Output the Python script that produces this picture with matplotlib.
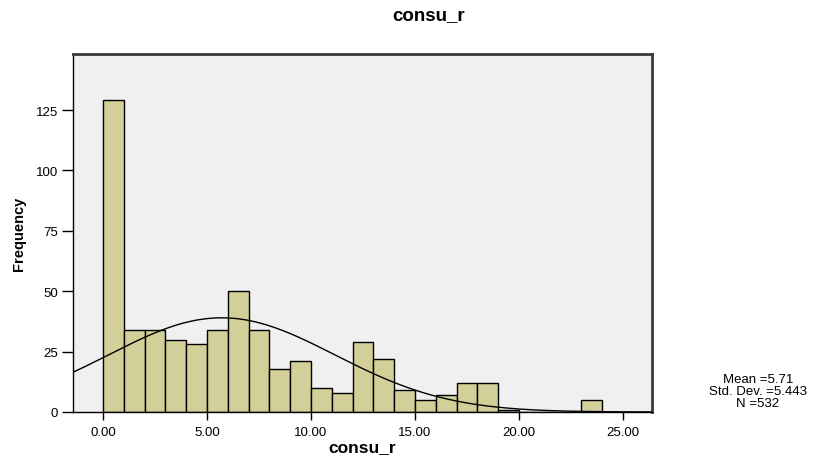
import numpy as np
import matplotlib.pyplot as plt

# histogram of consu_r, bin width 1 starting at 0
bin_starts = np.arange(0, 24, 1)
counts = [129, 34, 34, 30, 28, 34, 50, 34, 18, 21, 10, 8,
          29, 22, 9, 5, 7, 12, 12, 1, 0, 0, 0, 5]
mean = 5.71
std_dev = 5.443
n_obs = 532

plt.rcParams['font.family'] = ['Liberation Sans', 'DejaVu Sans']

fig = plt.figure(figsize=(8.13, 4.56), dpi=100)
ax = fig.add_axes([0.0898, 0.0943, 0.7122, 0.7851])
ax.set_facecolor('#F0F0F0')

ax.bar(bin_starts, counts, width=1.0, align='edge', color='#D3CF98',
       edgecolor='black', linewidth=1.0, zorder=2)

# normal curve scaled to counts (bin width 1)
xlim = (-1.44, 26.4)
xs = np.linspace(xlim[0], xlim[1], 400)
ys = n_obs / (std_dev * np.sqrt(2 * np.pi)) * np.exp(-0.5 * ((xs - mean) / std_dev) ** 2)
ax.plot(xs, ys, color='black', linewidth=1.0, zorder=3)

ax.set_xlim(*xlim)
ax.set_ylim(0, 148.2)
ax.set_xticks([0, 5, 10, 15, 20, 25])
ax.set_xticklabels(['0.00', '5.00', '10.00', '15.00', '20.00', '25.00'])
ax.set_yticks([0, 25, 50, 75, 100, 125])
ax.tick_params(axis='both', direction='out', width=1, labelsize=9.5, colors='black')
ax.tick_params(axis='x', length=6, pad=4)
ax.tick_params(axis='y', length=8, pad=3)

for side in ['left', 'bottom']:
    ax.spines[side].set_linewidth(1.0)
    ax.spines[side].set_color('black')
for side in ['top', 'right']:
    ax.spines[side].set_linewidth(2.0)
    ax.spines[side].set_color('#3A3A3A')

ax.set_xlabel('consu_r', fontsize=12.5, fontweight='bold', labelpad=1)
ax.set_ylabel('Frequency', fontsize=10.5, fontweight='bold', labelpad=7)

fig.text(0.527, 0.965, 'consu_r', ha='center', va='center',
         fontsize=13.5, fontweight='bold')

fig.text(0.932, 0.140, 'Mean =%.2f\nStd. Dev. =%.3f\nN =%d' % (mean, std_dev, n_obs),
         ha='center', va='center', fontsize=9.5, linespacing=0.97)

fig.savefig('out.png', dpi=100)
